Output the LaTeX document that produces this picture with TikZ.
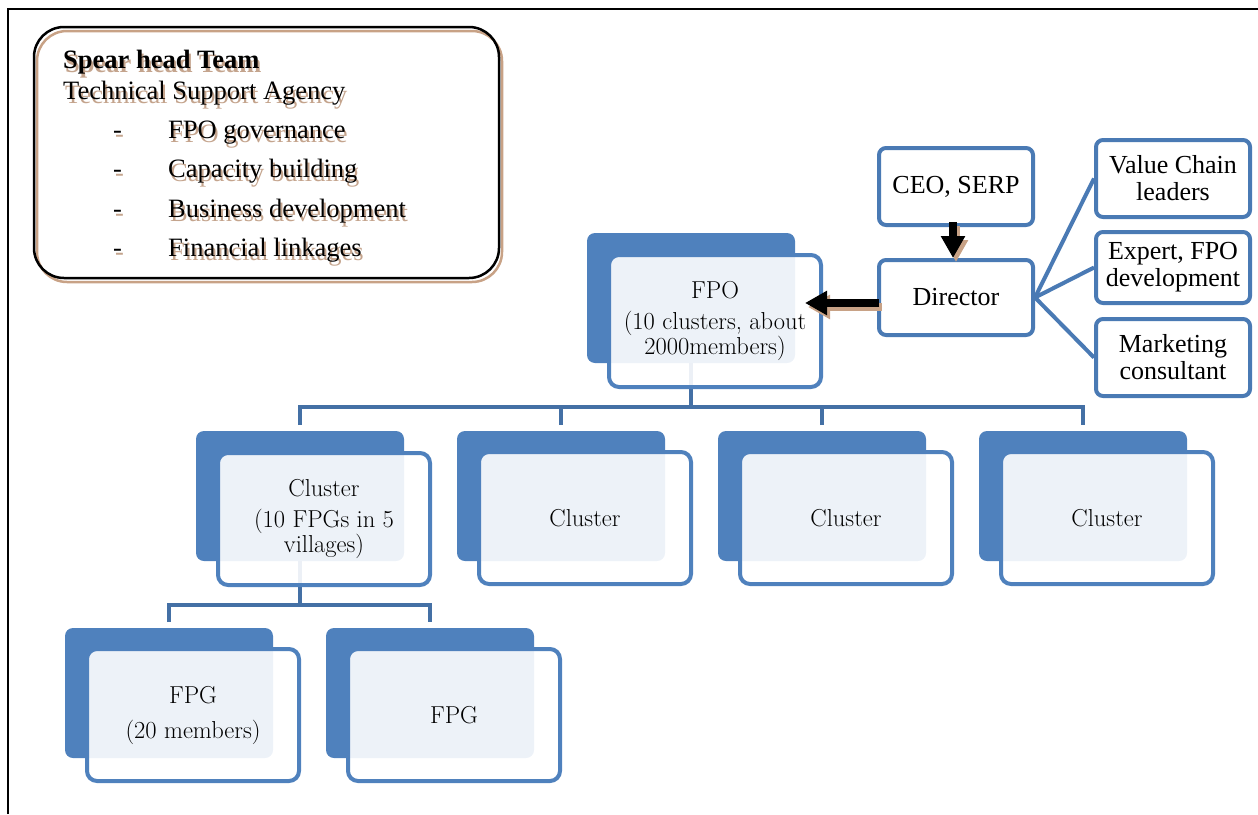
\documentclass[tikz,border=0pt]{standalone}
\usepackage{fontspec}
\newfontfamily\tnr{Liberation Serif}
\usetikzlibrary{arrows.meta,calc}
\definecolor{accent}{HTML}{4F81BD}
\definecolor{edgeblue}{HTML}{4A7AB4}
\definecolor{busblue}{HTML}{4470A5}
\definecolor{tanshade}{HTML}{C8A286}
\definecolor{tantext}{HTML}{C4A48D}
\begin{document}
\begin{tikzpicture}[x=1pt,y=1pt,
  back/.style={rectangle, rounded corners=8pt, fill=accent, minimum width=208pt,
    minimum height=130pt, inner sep=0pt, outer sep=0pt},
  front/.style={rectangle, rounded corners=10pt, draw=accent, line width=4pt,
    fill=white, fill opacity=0.9, text opacity=1, minimum width=212pt,
    minimum height=132pt, inner sep=0pt, align=center,
    font=\fontsize{24.5}{24}\selectfont},
  rbox/.style={rectangle, rounded corners=7pt, draw=edgeblue, line width=4pt,
    fill=white, minimum width=154pt, minimum height=77pt, inner sep=0pt,
    align=center, font=\tnr\fontsize{26}{27}\selectfont},
  bus/.style={draw=busblue, line width=4.5pt},
  spoke/.style={draw=edgeblue, line width=4pt},
  bigarrow/.style={line width=7.5pt, -{Triangle[width=23pt,length=22pt]}},
  listtxt/.style={anchor=base west, inner sep=0pt, font=\tnr\fontsize{26.5}{28}\selectfont},
  ]
\useasboundingbox (0,0) rectangle (1258,-814);

% page frame (top and left rules)
\draw[line width=2pt] (8,-814) -- (8,-9) -- (1258,-9);

% Spear head team panel
\node[draw=tanshade, line width=2.5pt, rounded corners=30pt, minimum width=465pt,
  minimum height=251pt, inner sep=0pt] (teamshadow) at (269.5,-156.5) {};
\node[draw=black, line width=2.5pt, rounded corners=30pt, minimum width=465pt,
  minimum height=251pt, inner sep=0pt] (team) at (266.5,-152.5) {};

\node[listtxt, text=tantext] at (65,-72) {\bfseries Spear head Team};
\node[listtxt] (head) at (63,-68) {\bfseries Spear head Team};
\node[listtxt, text=tantext] at (65,-103) {Technical Support Agency};
\node[listtxt] (agency) at (63,-99) {Technical Support Agency};
\foreach \yy/\tt [count=\i] in {138/FPO governance, 177/Capacity building,
    217/Business development, 256/Financial linkages} {
  \node[listtxt, text=tantext] at (115,-\yy-4) {-};
  \node[listtxt, text=tantext] at (170,-\yy-4) {\tt};
  \node[listtxt] (dash\i) at (113,-\yy) {-};
  \node[listtxt] (item\i) at (168,-\yy) {\tt};
}

% hierarchy: solid back plates
\node[back] (fpoB) at (691,-298) {};
\node[back] (c1B) at (300,-496) {};
\node[back] (c2B) at (561,-496) {};
\node[back] (c3B) at (822,-496) {};
\node[back] (c4B) at (1083,-496) {};
\node[back] (g1B) at (169,-693) {};
\node[back] (g2B) at (430,-693) {};

% hierarchy connectors
\draw[bus] (fpoB.south) -- ++(0,-44);
\draw[bus] ([yshift=6pt]c1B.north) -- ++(0,18) -| ([yshift=6pt]c4B.north);
\draw[bus] ([yshift=6pt]c2B.north) -- ++(0,18);
\draw[bus] ([yshift=6pt]c3B.north) -- ++(0,18);
\draw[bus] (c1B.south) -- ++(0,-44);
\draw[bus] ([yshift=6pt]g1B.north) -- ++(0,17) -| ([yshift=6pt]g2B.north);

% hierarchy: framed text panels
\node[front] (fpo) at (715,-321) {FPO\\[7pt](10 clusters, about\\2000members)};
\node[front] (c1) at (324,-519) {Cluster\\[7pt](10 FPGs in 5\\villages)};
\node[front] (c2) at (585,-518) {Cluster};
\node[front] (c3) at (846,-518) {Cluster};
\node[front] (c4) at (1107,-518) {Cluster};
\node[front] (g1) at (193,-715) {FPG\\[11pt](20 members)};
\node[front] (g2) at (454,-715) {FPG};

% management boxes
\node[rbox] (ceo) at (956,-186.5) {CEO, SERP};
\node[rbox, minimum height=75pt] (dir) at (956,-297.5) {Director};
\node[rbox] (vc) at (1173,-178.5) {Value Chain\\leaders};
\node[rbox, minimum height=71pt] (exp) at (1173,-267.5) {Expert, FPO\\development};
\node[rbox] (mkt) at (1173,-357.5) {Marketing\\consultant};

\draw[spoke] (dir.east) -- (vc.west);
\draw[spoke] (dir.east) -- (exp.west);
\draw[spoke] (dir.east) -- (mkt.west);

% thick arrows with soft shadow
\coordinate (ceoOut) at ($(ceo.south)+(-3,5)$);
\coordinate (dirIn) at ($(dir.north)+(-3,0)$);
\coordinate (dirOut) at ($(dir.west)+(2,-5.5)$);
\coordinate (fpoIn) at ($(fpo.east)+(-18,18)$);

\draw[bigarrow, draw=tanshade, fill=tanshade, transform canvas={shift={(3pt,-4pt)}}] (ceoOut) -- (dirIn);
\draw[bigarrow, draw=tanshade, fill=tanshade, transform canvas={shift={(3pt,-4pt)}}] (dirOut) -- (fpoIn);
\draw[bigarrow] (ceoOut) -- (dirIn);
\draw[bigarrow] (dirOut) -- (fpoIn);
\end{tikzpicture}
\end{document}
